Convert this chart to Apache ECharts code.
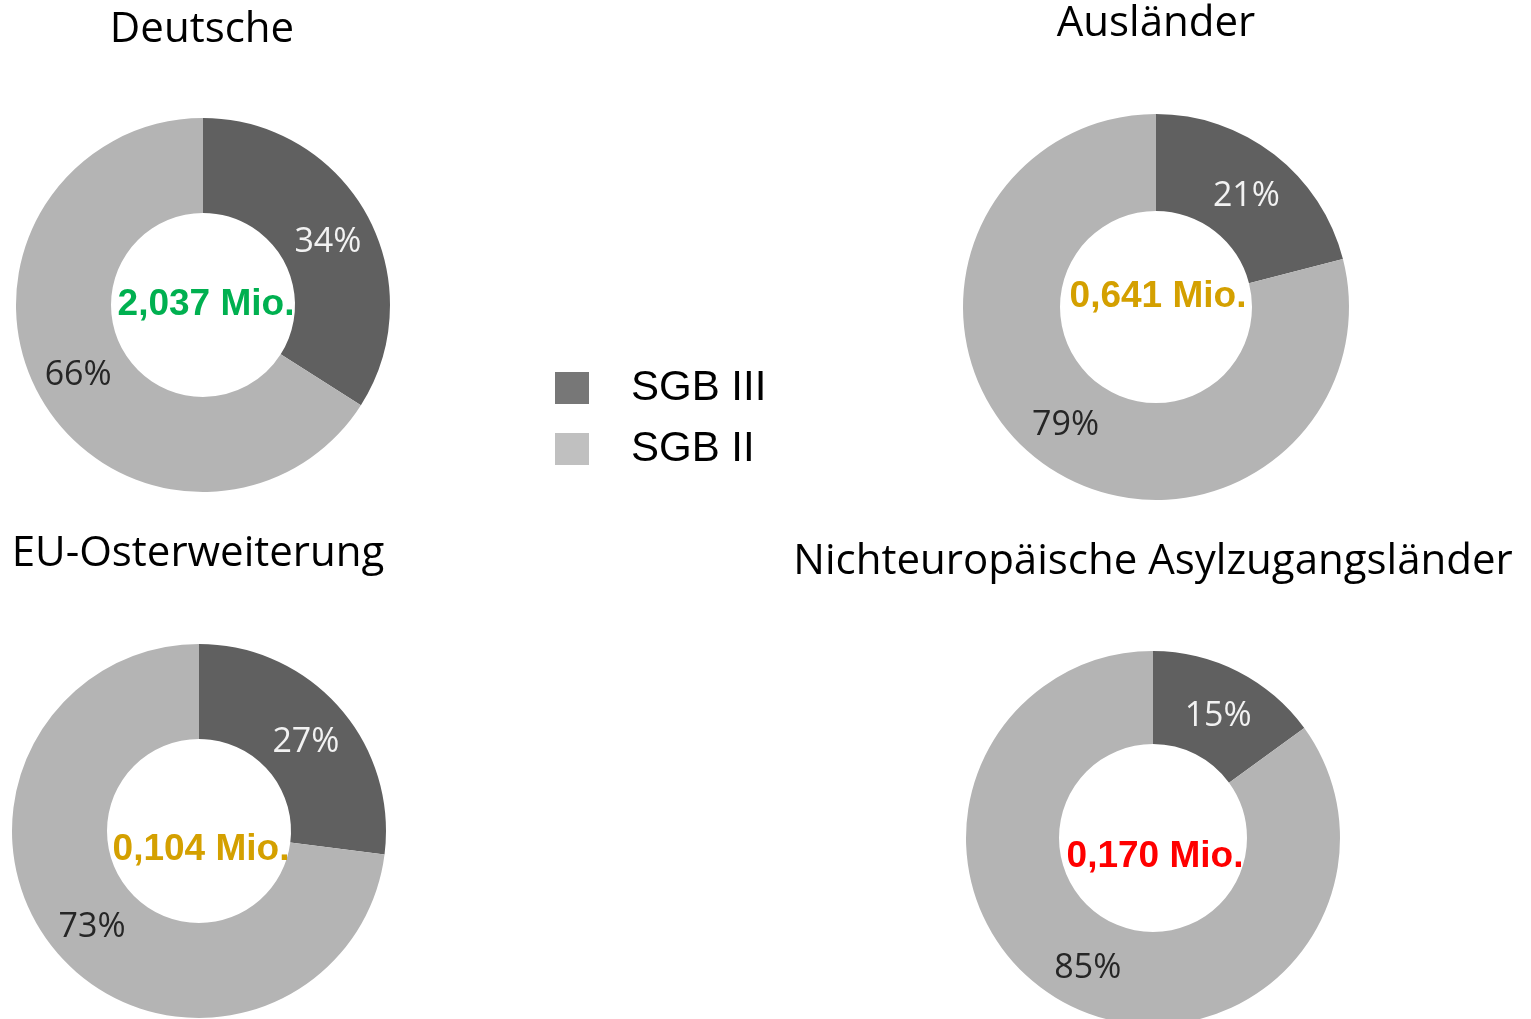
<!DOCTYPE html>
<html>
<head>
<meta charset="utf-8">
<script src="https://cdn.jsdelivr.net/npm/echarts@6/dist/echarts.min.js"></script>
<style>
html,body{margin:0;padding:0;background:#fff;}
#main{width:1531px;height:1019px;}
</style>
</head>
<body>
<div id="main"></div>
<script>
var group_names=['Deutsche','Ausländer','EU-Osterweiterung','Nichteuropäische Asylzugangsländer'];
var totals=['2,037 Mio.','0,641 Mio.','0,104 Mio.','0,170 Mio.'];
var total_colors=['#00b050','#d4a000','#d4a000','#ff0000'];
var legend_names=['SGB III','SGB II'];
var sgb3=[34,21,27,15];
var sgb2=[66,79,73,85];

// layout of the four rings
var centers=[[203,305],[1156,307],[199,831],[1153,838]];
var radii=[[92,187],[96,193],[92,187],[94,187]];
var title_pos=[[202,30],[1156,24],[198,554],[1153,562]];
var total_pos=[[206,305],[1158,297],[201,850],[1155,857]];

var ring_colors=['#606060','#b4b4b4'];
var legend_colors=['#777777','#c0c0c0'];

function ring_data(i){
	return [
		{name:legend_names[0],value:sgb3[i],itemStyle:{color:ring_colors[0]},label:{color:'#f2f2f2'}},
		{name:legend_names[1],value:sgb2[i],itemStyle:{color:ring_colors[1]},label:{color:'#262626'}}
	];
}

var myChart=echarts.init(document.getElementById('main'));
var option={
	animation:false,
	legend:{
		orient:'vertical',
		left:550,
		top:362,
		itemWidth:34,
		itemHeight:32,
		itemGap:19,
		selectedMode:false,
		icon:'rect',
		textStyle:{
			fontFamily:'Liberation Sans, Arial',
			fontSize:42,
			color:'#000',
			padding:[0,0,0,37]
		},
		data:[
			{name:legend_names[0],itemStyle:{color:legend_colors[0]}},
			{name:legend_names[1],itemStyle:{color:legend_colors[1]}}
		]
	},
	series:[],
	graphic:[]
};
for(var i=0;i<group_names.length;i++){
	option.series.push({
		name:group_names[i],
		type:'pie',
		center:centers[i],
		radius:radii[i],
		startAngle:90,
		clockwise:true,
		avoidLabelOverlap:false,
		emphasis:{disabled:true},
		label:{
			show:true,
			position:'inside',
			formatter:'{c}%',
			fontFamily:'Open Sans',
			fontSize:34
		},
		labelLayout:function(p){
			return {dy:p.dataIndex===0?6:2};
		},
		labelLine:{show:false},
		data:ring_data(i)
	});
	option.graphic.push({
		type:'text',
		x:title_pos[i][0],
		y:title_pos[i][1],
		style:{
			text:group_names[i],
			fontFamily:'Open Sans',
			fontSize:42,
			fill:'#000',
			align:'center',
			verticalAlign:'middle'
		}
	});
	option.graphic.push({
		type:'text',
		x:total_pos[i][0],
		y:total_pos[i][1],
		z:100,
		style:{
			text:totals[i],
			fontFamily:'Liberation Sans, Arial',
			fontWeight:'bold',
			fontSize:37,
			fill:total_colors[i],
			align:'center',
			verticalAlign:'middle'
		}
	});
}
myChart.setOption(option);
</script>
</body>
</html>
